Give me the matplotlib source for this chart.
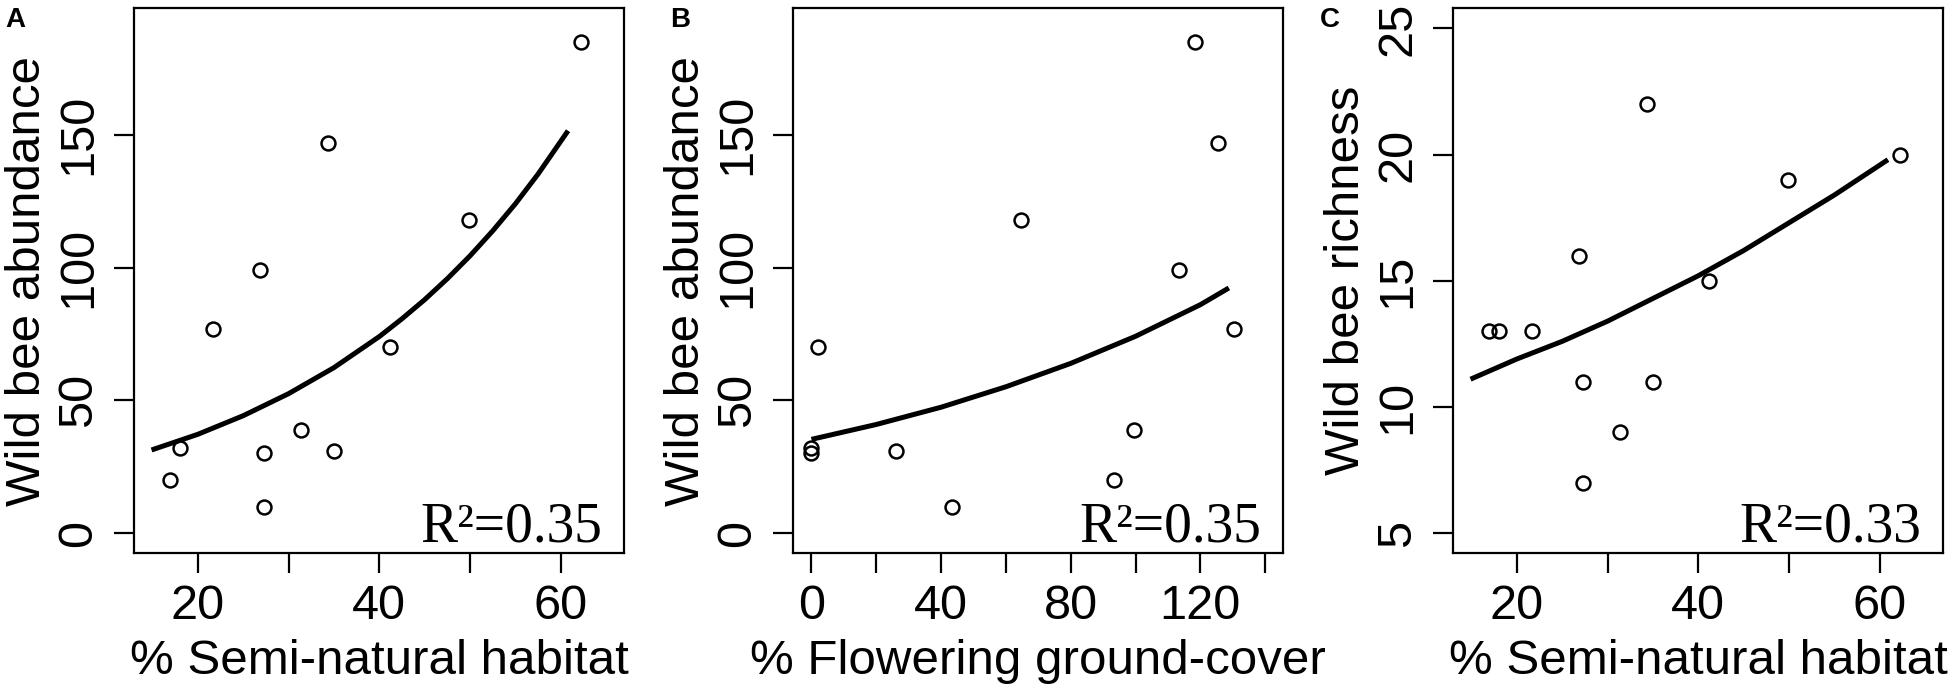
import matplotlib
matplotlib.use('Agg')
import matplotlib.pyplot as plt

plt.rcParams['font.family'] = ['Liberation Sans', 'DejaVu Sans']

# site values (same site order in every list)
snh = [62.2, 34.3, 49.9, 26.9, 21.7, 41.2, 31.4, 18.0, 27.3, 35.0, 16.9, 27.3]
flowering = [118.3, 125.6, 64.7, 113.4, 130.5, 1.9, 99.6, 0.0, 0.0, 26.2, 93.4, 43.3]
abundance = [185, 147, 118, 99, 77, 70, 39, 32, 30, 31, 20, 10]
richness = [20, 22, 19, 16, 13, 15, 9, 13, 11, 11, 13, 7]

# fitted curves
fit_a_x = [14.9, 20, 25, 30, 35, 40, 42.5, 45, 47.5, 50, 52.5, 55, 57.5, 60.8]
fit_a_y = [31.3, 37.2, 44.2, 52.5, 62.3, 74.0, 80.7, 87.9, 95.8, 104.4, 113.8, 124.0, 135.2, 151.5]
fit_b_x = [0, 20, 40, 60, 80, 100, 120, 128.8]
fit_b_y = [35.3, 40.9, 47.4, 55.1, 63.9, 74.1, 86.0, 92.3]
fit_c_x = [14.9, 20, 25, 30, 35, 40, 45, 50, 55, 60.9]
fit_c_y = [11.1, 11.9, 12.6, 13.4, 14.3, 15.2, 16.2, 17.3, 18.4, 19.8]

snh_ticks = [20, 30, 40, 50, 60]
snh_ticklabels = ['20', '', '40', '', '60']
flow_ticks = [0, 20, 40, 60, 80, 100, 120, 140]
flow_ticklabels = ['0', '', '40', '', '80', '', '120', '']
abund_ticks = [0, 50, 100, 150]
rich_ticks = [5, 10, 15, 20, 25]

r2_labels = ['R\u00b2=0.35', 'R\u00b2=0.35', 'R\u00b2=0.33']
panel_letters = ['A', 'B', 'C']


def r_lim(lo, hi):
    # R pads the axis range by 4% on each side
    d = (hi - lo) * 0.04
    return lo - d, hi + d


def panel(ax, x, y, fx, fy, xticks, xticklabels, yticks, xlim, ylim,
          xlabel, ylabel, r2):
    ax.plot(x, y, 'o', ms=10, mfc='none', mec='black', mew=1.8)
    ax.plot(fx, fy, '-', color='black', lw=3.6, solid_capstyle='butt',
            solid_joinstyle='round')
    ax.set_xlim(*r_lim(*xlim))
    ax.set_ylim(*r_lim(*ylim))
    ax.set_xticks(xticks)
    ax.set_xticklabels(xticklabels)
    ax.set_yticks(yticks)
    ax.set_yticklabels([str(v) for v in yticks], rotation=90, va='center')
    ax.tick_params(axis='both', labelsize=35, length=14.4, width=1.6, direction='out')
    ax.tick_params(axis='x', pad=8)
    ax.tick_params(axis='y', pad=9.5)
    for sp in ax.spines.values():
        sp.set_linewidth(1.6)
    ax.set_xlabel(xlabel, fontsize=35.5, va='baseline')
    ax.xaxis.set_label_coords(0.5, -0.2215)
    ax.set_ylabel(ylabel, fontsize=35.5, va='baseline')
    ax.yaxis.set_label_coords(-0.1922, 0.5)
    ax.text(1 - 22 / 489, 11.6 / 545, r2, transform=ax.transAxes, ha='right',
            va='baseline', fontsize=40, family=['Liberation Serif', 'DejaVu Serif'])


fig = plt.figure(figsize=(19.55, 6.87), dpi=100)
lefts = [134.3, 793.3, 1453.3]
letter_x = [5, 670, 1320]
axes = [fig.add_axes([l / 1955, (687 - 553.3) / 687, 490 / 1955, 545 / 687]) for l in lefts]

panel(axes[0], snh, abundance, fit_a_x, fit_a_y, snh_ticks, snh_ticklabels, abund_ticks,
      (15, 65), (0, 190), '% Semi-natural habitat', 'Wild bee abundance', r2_labels[0])
panel(axes[1], flowering, abundance, fit_b_x, fit_b_y, flow_ticks, flow_ticklabels, abund_ticks,
      (0, 140), (0, 190), '% Flowering ground-cover', 'Wild bee abundance', r2_labels[1])
panel(axes[2], snh, richness, fit_c_x, fit_c_y, snh_ticks, snh_ticklabels, rich_ticks,
      (15, 65), (5, 25), '% Semi-natural habitat', 'Wild bee richness', r2_labels[2])

for lx, letter in zip(letter_x, panel_letters):
    fig.text(lx / 1955, 1 - 7 / 687, letter, fontsize=20, fontweight='bold', ha='left', va='top')

fig.savefig('out.png', dpi=100)
